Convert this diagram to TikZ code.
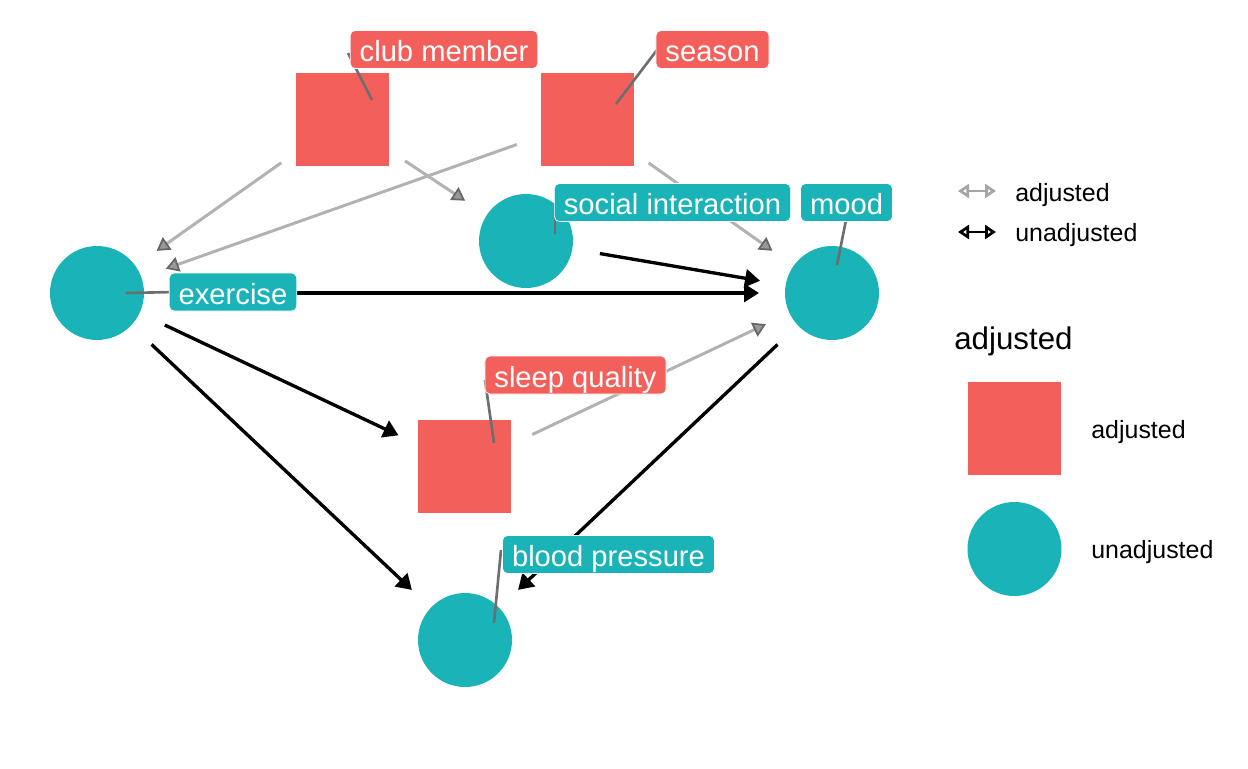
\documentclass[tikz,border=0pt]{standalone}
\usepackage{fontspec}
\setmainfont{Liberation Sans}
\usetikzlibrary{arrows.meta}

\begin{document}
\begin{tikzpicture}[x=0.02cm,y=-0.02cm]

		\definecolor{adjred}{RGB}{243,96,92}
		\definecolor{unadjteal}{RGB}{25,179,184}
		\definecolor{leadgray}{RGB}{110,110,110}

		\useasboundingbox (0,0) rectangle (1248,768);

		\tikzstyle{edge} = [draw=black, line width=1.9pt, shorten <=1.5cm, shorten >=1.46cm, -{Triangle[length=0.3cm,width=0.36cm]}]
		\tikzstyle{adjedge} = [draw=black!30, line width=1.7pt, shorten <=1.5cm, shorten >=1.46cm, -{Triangle[length=0.26cm,width=0.3cm,color=black!60,fill=black!40,line width=1pt]}]
		\tikzstyle{lead} = [draw=leadgray, line width=1.5pt]
		\tikzset{tag/.style = {rounded corners=0.1cm, draw=white, line width=0.4pt, text=white, font=\fontsize{16.6}{19}\selectfont, inner xsep=0.19cm, inner ysep=0pt, minimum height=0.76cm, text height=14pt, text depth=0.2pt}}
		\tikzset{keytext/.style = {anchor=base west, inner sep=0pt, font=\fontsize{14.2}{17}\selectfont}}

		\tikzset{vertex/.style = {shape=circle, fill=unadjteal, minimum size=1.88cm, inner sep=0pt}}
		\node[vertex] (ex) at (97,293) {};
		\node[vertex] (social) at (526,241) {};
		\node[vertex] (mood) at (832,293) {};
		\node[vertex] (bp) at (465,640) {};
		\node[vertex] (keyunadj) at (1014.5,549) {};

		\tikzset{vertex/.style = {shape=rectangle, fill=adjred, minimum size=1.86cm, inner sep=0pt}}
		\node[vertex] (club) at (342.5,119.5) {};
		\node[vertex] (season) at (587.5,119.5) {};
		\node[vertex] (sleep) at (464.5,466.5) {};
		\node[vertex] (keyadj) at (1014.5,428.5) {};

		% adjusted paths
		\draw[adjedge] (club.center) to (ex.center);
		\draw[adjedge] (season.center) to (ex.center);
		\draw[adjedge] (club.center) to (social.center);
		\draw[adjedge] (season.center) to (mood.center);
		\draw[adjedge] (sleep.center) to (mood.center);

		% unadjusted paths
		\draw[edge] (ex.center) to (mood.center);
		\draw[edge] (social.center) to (mood.center);
		\draw[edge] (ex.center) to (sleep.center);
		\draw[edge] (ex.center) to (bp.center);
		\draw[edge] (mood.center) to (bp.center);

		\coordinate (clubpin) at (372,100);
		\coordinate (clubend) at (348,53);
		\coordinate (seasonpin) at (616,104);
		\coordinate (seasonend) at (660,46);
		\coordinate (socialpin) at (555,234);
		\coordinate (socialend) at (555,205);
		\coordinate (moodpin) at (837,265);
		\coordinate (moodend) at (847,215);
		\coordinate (expin) at (126,293);
		\coordinate (exend) at (175,292);
		\coordinate (sleeppin) at (494,443);
		\coordinate (sleepend) at (485,380);
		\coordinate (bppin) at (494,623);
		\coordinate (bpend) at (501,550);

		\draw[lead] (clubpin) to (clubend);
		\draw[lead] (seasonpin) to (seasonend);
		\draw[lead] (socialpin) to (socialend);
		\draw[lead] (moodpin) to (moodend);
		\draw[lead] (expin) to (exend);
		\draw[lead] (sleeppin) to (sleepend);
		\draw[lead] (bppin) to (bpend);

		\node[tag, fill=adjred] (lclub) at (444,49.5) {club member};
		\node[tag, fill=adjred] (lseason) at (712.5,49.5) {season};
		\node[tag, fill=unadjteal] (lsocial) at (672.5,202.5) {social interaction};
		\node[tag, fill=unadjteal] (lmood) at (846.5,202.5) {mood};
		\node[tag, fill=unadjteal] (lex) at (233,292) {exercise};
		\node[tag, fill=adjred] (lsleep) at (575.5,375) {sleep quality};
		\node[tag, fill=unadjteal] (lbp) at (608.5,554.5) {blood pressure};

		% legend
		\coordinate (adjleft) at (958,191);
		\coordinate (adjright) at (996,191);
		\coordinate (unadjleft) at (958,232);
		\coordinate (unadjright) at (996,232);
		\draw[draw=black!35, line width=1.7pt, {Triangle[open,length=0.22cm,width=0.28cm]}-{Triangle[open,length=0.22cm,width=0.28cm]}] (adjleft) to (adjright);
		\draw[draw=black, line width=1.7pt, {Triangle[open,length=0.22cm,width=0.28cm]}-{Triangle[open,length=0.22cm,width=0.28cm]}] (unadjleft) to (unadjright);
		\node[keytext] (tadjarrow) at (1015,201) {adjusted};
		\node[keytext] (tunadjarrow) at (1015,241) {unadjusted};

		\node[keytext, font=\fontsize{17.8}{21}\selectfont] (keytitle) at (954,349) {adjusted};
		\node[keytext] (tkeyadj) at (1091,438) {adjusted};
		\node[keytext] (tkeyunadj) at (1091,558) {unadjusted};
		\end{tikzpicture}
\end{document}
